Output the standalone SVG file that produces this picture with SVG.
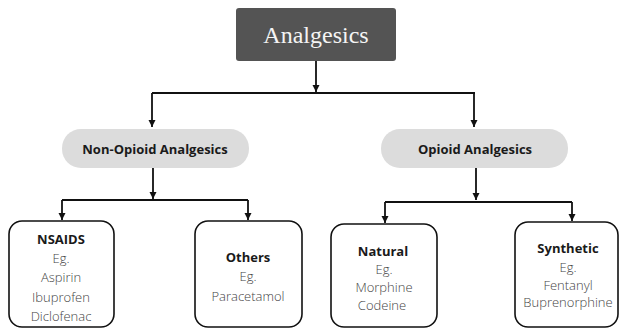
<svg xmlns="http://www.w3.org/2000/svg" width="619" height="329" viewBox="0 0 619 329">
<defs>
<marker id="ah" viewBox="0 0 8 8" refX="8" refY="4" markerWidth="4" markerHeight="4" markerUnits="strokeWidth" orient="auto">
<path d="M0,0 L8,4 L0,8 Z" fill="#111"/>
</marker>
<style>
.c{fill:none;stroke:#111;stroke-width:1.8}
.a{marker-end:url(#ah)}
.pill{fill:#dcdcdc}
.leaf{fill:#fff;stroke:#111;stroke-width:1.6}
.h{font-family:"Open Sans","Liberation Sans",sans-serif;font-weight:bold;font-size:13px;fill:#1a1a1a;text-anchor:middle}
.t{font-family:"Open Sans","Liberation Sans",sans-serif;font-weight:300;font-size:13px;fill:#444;text-anchor:middle}
</style>
</defs>
<rect width="619" height="329" fill="#fff"/>
<g id="connectors">
<path class="c a" d="M316,61 V92"/>
<path class="c" d="M152,93 H475"/>
<path class="c a" d="M152,93 V127"/>
<path class="c a" d="M474,93 V127"/>
<path class="c a" d="M153,168 V199"/>
<path class="c" d="M62,200 H248"/>
<path class="c a" d="M62,200 V220"/>
<path class="c a" d="M248,200 V220"/>
<path class="c a" d="M476,168 V200"/>
<path class="c" d="M385,202 H572"/>
<path class="c a" d="M385,202 V223"/>
<path class="c a" d="M572,202 V221"/>
</g>
<g id="analgesics">
<rect x="236" y="8" width="160" height="53" rx="3" fill="#545454"/>
<text x="316" y="43" font-family="'Liberation Serif',serif" font-size="24" fill="#f4f4f4" text-anchor="middle">Analgesics</text>
</g>
<g id="non-opioid">
<rect class="pill" x="62" y="129" width="187" height="39" rx="19"/>
<text class="h" x="155" y="154">Non-Opioid Analgesics</text>
</g>
<g id="opioid">
<rect class="pill" x="381" y="129" width="187" height="39" rx="19"/>
<text class="h" x="475" y="154">Opioid Analgesics</text>
</g>
<g id="nsaids">
<rect class="leaf" x="9" y="221" width="105" height="106" rx="13"/>
<text class="h" x="61" y="244">NSAIDS</text>
<text class="t" x="61" y="263">Eg.</text>
<text class="t" x="61" y="282">Aspirin</text>
<text class="t" x="61" y="302">Ibuprofen</text>
<text class="t" x="61" y="321">Diclofenac</text>
</g>
<g id="others">
<rect class="leaf" x="195" y="221" width="107" height="106" rx="13"/>
<text class="h" x="248" y="262">Others</text>
<text class="t" x="248" y="281">Eg.</text>
<text class="t" x="248" y="301">Paracetamol</text>
</g>
<g id="natural">
<rect class="leaf" x="331" y="224" width="106" height="103" rx="13"/>
<text class="h" x="383" y="256">Natural</text>
<text class="t" x="384" y="274">Eg.</text>
<text class="t" x="384" y="292">Morphine</text>
<text class="t" x="382" y="310">Codeine</text>
</g>
<g id="synthetic">
<rect class="leaf" x="515" y="222" width="103" height="105" rx="13"/>
<text class="h" x="568" y="253">Synthetic</text>
<text class="t" x="568" y="272">Eg.</text>
<text class="t" x="568" y="290">Fentanyl</text>
<text class="t" x="568" y="307">Buprenorphine</text>
</g>
</svg>
